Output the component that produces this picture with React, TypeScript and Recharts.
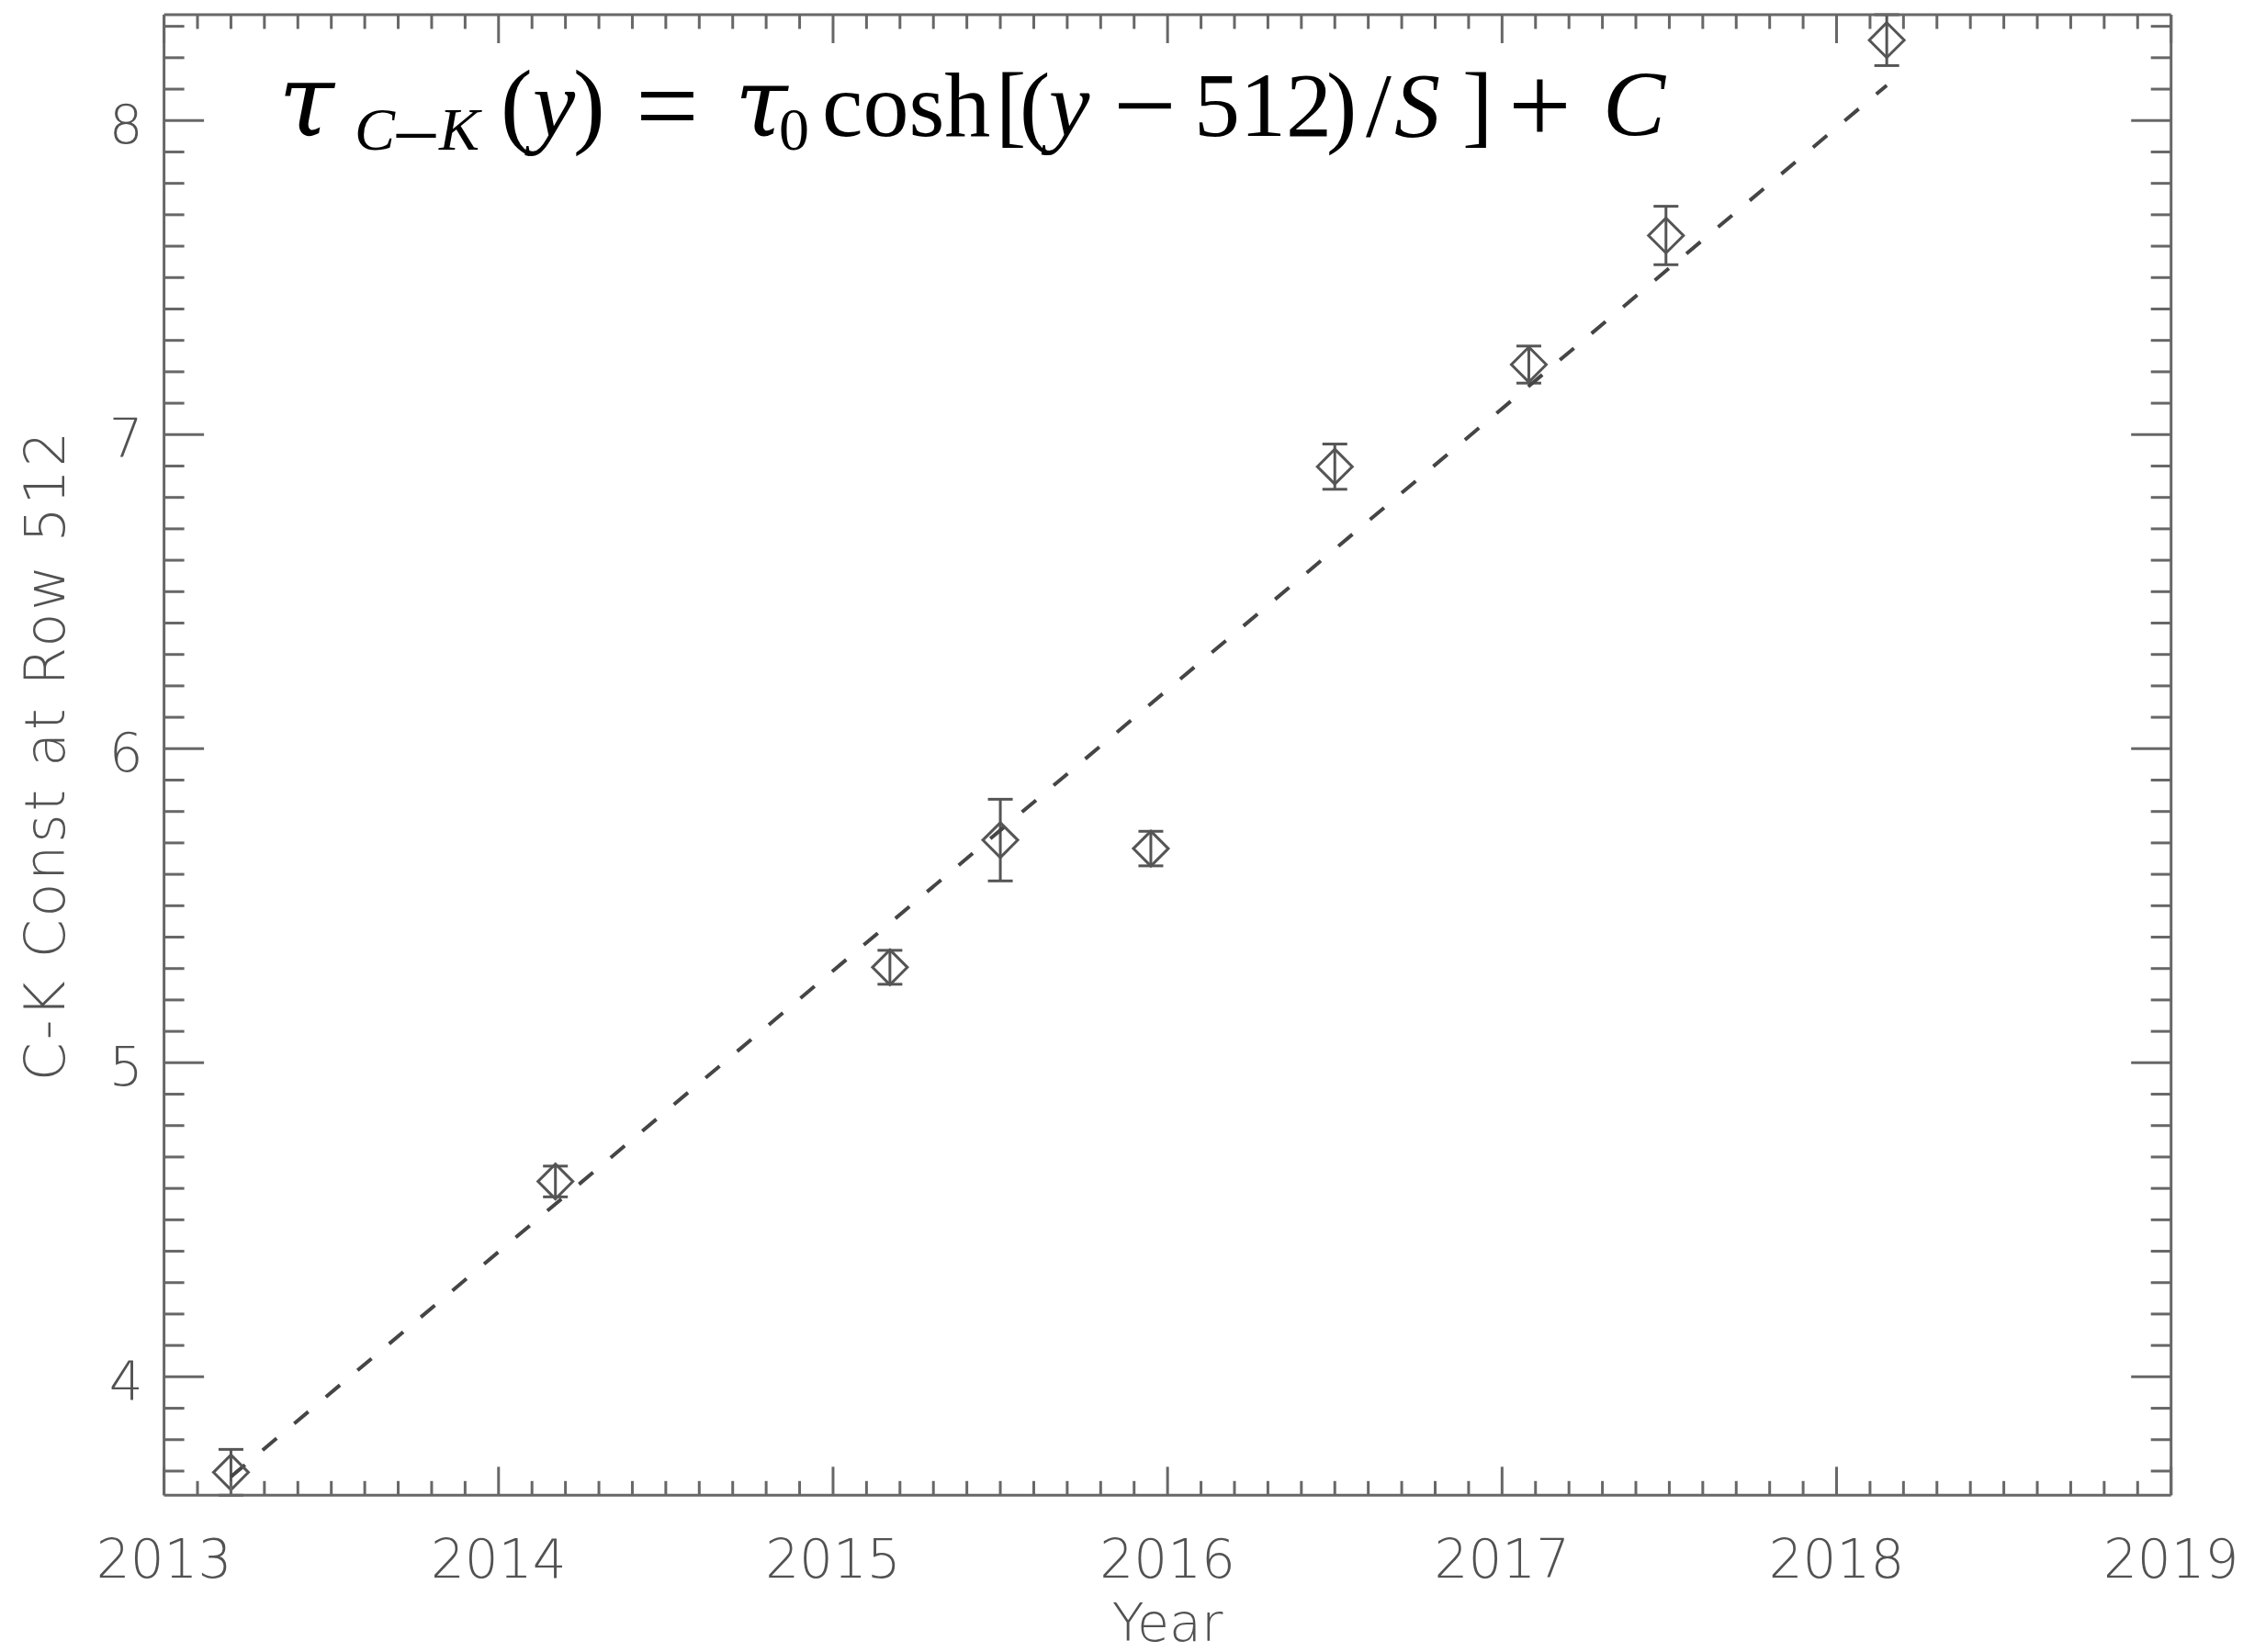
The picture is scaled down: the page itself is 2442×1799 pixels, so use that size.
import React from 'react';
import { ComposedChart, Scatter, XAxis, YAxis, ErrorBar } from 'recharts';

// Charge-transfer (C-K) constant measured at detector row 512, by epoch
const years = [2013.2, 2014.17, 2015.17, 2015.5, 2015.95, 2016.5, 2017.08, 2017.49, 2018.15];
const values = [3.696, 4.622, 5.304, 5.709, 5.682, 6.898, 7.223, 7.634, 8.256];
const errors = [0.073, 0.049, 0.054, 0.13, 0.055, 0.072, 0.059, 0.093, 0.081];

// Linear trend evaluated at the first and last epoch
const fitYears = [2013.2, 2018.15];
const fitValues = [3.682, 8.112];

// Labelled (major) ticks
const yearTicks = [2013, 2014, 2015, 2016, 2017, 2018, 2019];
const valueTicks = [4, 5, 6, 7, 8];

const W = 2442;
const H = 1799;
const AXIS = '#676767';
const INK = '#555';
const LABEL = '#525252';
const SANS = '"DejaVu Sans", sans-serif';
const SERIF = '"Liberation Serif", "DejaVu Serif", serif';
const GREEK = '"DejaVu Serif", serif';

const points = years.map((year, i) => ({ year, value: values[i], err: errors[i] }));
const fit = fitYears.map((year, i) => ({ year, value: fitValues[i] }));

// y range spans the error bars exactly
const yLo = Math.min(...values.map((v, i) => v - errors[i]));
const yHi = Math.max(...values.map((v, i) => v + errors[i]));
const xLo = yearTicks[0];
const xHi = yearTicks[yearTicks.length - 1];

const MINOR = 0.1;
function stepTicks(lo: number, hi: number): number[] {
  const out: number[] = [];
  for (let k = Math.ceil(lo / MINOR - 1e-9); k * MINOR <= hi + 1e-9; k++) {
    out.push(Math.round(k * MINOR * 10) / 10);
  }
  return out;
}
const xTicks = stepTicks(xLo, xHi);
const yTicks = stepTicks(yLo, yHi);

const isYearMajor = (v: number) => yearTicks.some((t) => Math.abs(t - v) < 1e-6);
const isValueMajor = (v: number) => valueTicks.some((t) => Math.abs(t - v) < 1e-6);

const X_MAJOR = 31;
const X_MINOR = 15.5;
const Y_MAJOR = 43.5;
const Y_MINOR = 22;

const tickText = { fontFamily: SANS, fontSize: 58, fontWeight: 200, fill: LABEL };

const BottomTick = (props: any) => {
  const { x, y, payload } = props;
  const major = isYearMajor(payload.value);
  return (
    <g>
      <line x1={x} y1={y} x2={x} y2={y - (major ? X_MAJOR : X_MINOR)} stroke={AXIS} strokeWidth={3} />
      {major && (
        <text x={x} y={y + 90} textAnchor="middle" {...tickText}>
          {String(Math.round(payload.value))}
        </text>
      )}
    </g>
  );
};

const TopTick = (props: any) => {
  const { x, y, payload } = props;
  const major = isYearMajor(payload.value);
  return <line x1={x} y1={y} x2={x} y2={y + (major ? X_MAJOR : X_MINOR)} stroke={AXIS} strokeWidth={3} />;
};

const LeftTick = (props: any) => {
  const { x, y, payload } = props;
  const major = isValueMajor(payload.value);
  return (
    <g>
      <line x1={x} y1={y} x2={x + (major ? Y_MAJOR : Y_MINOR)} y2={y} stroke={AXIS} strokeWidth={3} />
      {major && (
        <text x={x - 23} y={y + 24.5} textAnchor="end" {...tickText}>
          {String(Math.round(payload.value))}
        </text>
      )}
    </g>
  );
};

const RightTick = (props: any) => {
  const { x, y, payload } = props;
  const major = isValueMajor(payload.value);
  return <line x1={x} y1={y} x2={x - (major ? Y_MAJOR : Y_MINOR)} y2={y} stroke={AXIS} strokeWidth={3} />;
};

const Diamond = (props: any) => {
  const { cx, cy } = props;
  const r = 19;
  return (
    <path
      d={`M${cx},${cy - r} L${cx + r},${cy} L${cx},${cy + r} L${cx - r},${cy} Z`}
      fill="none"
      stroke={INK}
      strokeWidth={3}
    />
  );
};

const NoDot = () => null;

const YTitle = (props: any) => {
  const vb = props.viewBox || { x: 0, y: 0, height: 0 };
  const cy = vb.y + vb.height / 2;
  return (
    <text
      transform={`translate(${vb.x - 107.6}, ${cy}) rotate(-90)`}
      textAnchor="middle"
      fontFamily={SANS}
      fontSize={60}
      fontWeight={200}
      letterSpacing={3}
      fill={LABEL}
    >
      C-K Const at Row 512
    </text>
  );
};

const XTitle = (props: any) => {
  const vb = props.viewBox || { x: 0, y: 0, width: 0 };
  return (
    <text
      x={vb.x + vb.width / 2}
      y={vb.y + 159}
      textAnchor="middle"
      fontFamily={SANS}
      fontSize={57}
      fontWeight={200}
      fill={LABEL}
    >
      Year
    </text>
  );
};

// Model expression printed in the upper-left of the plot
const Formula = () => {
  const base = 148;
  const sub = 163;
  const op = 122;
  return (
    <text fill="#000" fontFamily={SERIF} fontSize={100}>
      <tspan x={303} y={base} fontFamily={GREEK} fontStyle="italic" fontSize={110}>τ</tspan>
      <tspan x={386} y={sub} fontStyle="italic" fontSize={66}>C</tspan>
      <tspan x={432} y={sub + 5} fontSize={84}>–</tspan>
      <tspan x={478} y={sub} fontStyle="italic" fontSize={66}>K</tspan>
      <tspan x={545} y={base} fontSize={104}>(</tspan>
      <tspan x={580} y={base} fontSize={104} fontStyle="italic">y</tspan>
      <tspan x={624} y={base} fontSize={104}>)</tspan>
      <tspan x={692} y={base + 8} fontSize={op}>=</tspan>
      <tspan x={800} y={base} fontFamily={GREEK} fontStyle="italic" fontSize={104}>τ</tspan>
      <tspan x={848} y={sub} fontSize={66}>0</tspan>
      <tspan x={895} y={base}>cosh</tspan>
      <tspan x={1084} y={base}>[</tspan>
      <tspan x={1110} y={base}>(</tspan>
      <tspan x={1142} y={base} fontStyle="italic">y</tspan>
      <tspan x={1212} y={base + 8} fontSize={op}>−</tspan>
      <tspan x={1300} y={base}>512</tspan>
      <tspan x={1444} y={base}>)</tspan>
      <tspan x={1487} y={base}>/</tspan>
      <tspan x={1518} y={base} fontStyle="italic">S</tspan>
      <tspan x={1592} y={base}>]</tspan>
      <tspan x={1642} y={base + 8} fontSize={op}>+</tspan>
      <tspan x={1745} y={base} fontStyle="italic" fontSize={102}>C</tspan>
    </text>
  );
};

export default function App() {
  const axisLine = { stroke: AXIS, strokeWidth: 3 };
  return (
    <div style={{ position: 'absolute', left: 0, top: 0, width: W, height: H, background: '#fff' }}>
      <ComposedChart
        width={W}
        height={H}
        margin={{ top: 15, right: 77.3, bottom: 169.7, left: 177.6 }}
      >
        <XAxis
          xAxisId="bottom"
          dataKey="year"
          type="number"
          domain={[xLo, xHi]}
          allowDataOverflow
          ticks={xTicks}
          interval={0}
          height={1}
          tickSize={0}
          tickMargin={0}
          tickLine={false}
          axisLine={axisLine}
          tick={BottomTick}
          label={{ content: XTitle }}
        />
        <XAxis
          xAxisId="top"
          orientation="top"
          dataKey="year"
          type="number"
          domain={[xLo, xHi]}
          allowDataOverflow
          ticks={xTicks}
          interval={0}
          height={1}
          tickSize={0}
          tickMargin={0}
          tickLine={false}
          axisLine={axisLine}
          tick={TopTick}
        />
        <YAxis
          yAxisId="left"
          type="number"
          domain={[yLo, yHi]}
          allowDataOverflow
          ticks={yTicks}
          interval={0}
          width={1}
          tickSize={0}
          tickMargin={0}
          tickLine={false}
          axisLine={axisLine}
          tick={LeftTick}
          label={{ content: YTitle }}
        />
        <YAxis
          yAxisId="right"
          orientation="right"
          type="number"
          domain={[yLo, yHi]}
          allowDataOverflow
          ticks={yTicks}
          interval={0}
          width={1}
          tickSize={0}
          tickMargin={0}
          tickLine={false}
          axisLine={axisLine}
          tick={RightTick}
        />
        <Scatter
          xAxisId="bottom"
          yAxisId="left"
          data={fit}
          dataKey="value"
          shape={NoDot}
          line={{ stroke: '#454545', strokeWidth: 4, strokeDasharray: '20 25' }}
          isAnimationActive={false}
        />
        <Scatter
          xAxisId="bottom"
          yAxisId="left"
          data={points}
          dataKey="value"
          shape={Diamond}
          isAnimationActive={false}
        >
          <ErrorBar dataKey="err" direction="y" width={13.5} stroke={INK} strokeWidth={3} isAnimationActive={false} />
        </Scatter>
        <Formula />
      </ComposedChart>
    </div>
  );
}
